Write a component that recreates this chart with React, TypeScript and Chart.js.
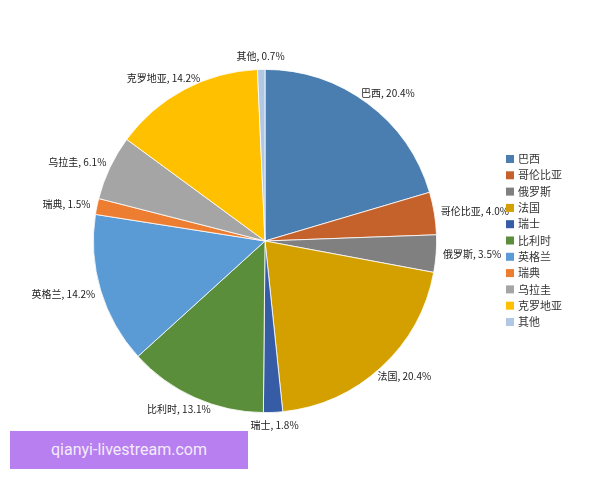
import { useEffect, useRef } from "react"
import { Chart, registerables } from "chart.js"

Chart.register(...registerables)

const countries = ["巴西", "哥伦比亚", "俄罗斯", "法国", "瑞士", "比利时", "英格兰", "瑞典", "乌拉圭", "克罗地亚", "其他"]
const shares = [20.4, 4.0, 3.5, 20.4, 1.8, 13.1, 14.2, 1.5, 6.1, 14.2, 0.7]
const sliceColors = [
  "#4a7eb0",
  "#c5612a",
  "#808080",
  "#d4a000",
  "#355ca4",
  "#5b8e3a",
  "#5b9bd5",
  "#ed7d31",
  "#a5a5a5",
  "#ffc000",
  "#b0c8e4",
]

const labelFont = '10px "Noto Sans CJK SC", sans-serif'

// etichette esterne "nome, xx.x%"
const outsideLabels = {
  id: "outsideLabels",
  afterDatasetsDraw(chart: any) {
    const ctx = chart.ctx
    const meta = chart.getDatasetMeta(0)
    ctx.save()
    ctx.font = labelFont
    ctx.fillStyle = "#222"
    ctx.textBaseline = "middle"
    ctx.textAlign = "center"
    meta.data.forEach((arc: any, i: number) => {
      const mid = (arc.startAngle + arc.endAngle) / 2
      const r = arc.outerRadius + 7
      const cos = Math.cos(mid)
      const sin = Math.sin(mid)
      const ax = arc.x + cos * r
      const ay = arc.y + sin * r
      const text = `${countries[i]}, ${shares[i].toFixed(1)}%`
      const w = ctx.measureText(text).width
      const h = 12
      ctx.fillText(text, ax + (cos * w) / 2, ay + (sin * h) / 2)
    })
    ctx.restore()
  },
}

// legenda a destra
const sideLegend = {
  id: "sideLegend",
  afterDraw(chart: any) {
    const ctx = chart.ctx
    ctx.save()
    ctx.font = '11px "Noto Sans CJK SC", sans-serif'
    ctx.textBaseline = "middle"
    ctx.textAlign = "left"
    countries.forEach((name, i) => {
      const y = 159 + i * 16.3
      ctx.fillStyle = sliceColors[i]
      ctx.fillRect(506, y - 4, 8, 8)
      ctx.fillStyle = "#333"
      ctx.fillText(name, 518, y)
    })
    ctx.restore()
  },
}

function PieChart() {
  const chartRef = useRef<HTMLCanvasElement>(null)
  const chartInstance = useRef<Chart | null>(null)

  useEffect(() => {
    if (!chartRef.current) return
    if (chartInstance.current) chartInstance.current.destroy()
    const ctx = chartRef.current.getContext("2d")
    if (!ctx) return

    chartInstance.current = new Chart(ctx, {
      type: "pie",
      data: {
        labels: countries,
        datasets: [
          {
            data: shares,
            backgroundColor: sliceColors,
            borderColor: "#ffffff",
            borderWidth: 0.8,
          },
        ],
      },
      options: {
        animation: false,
        responsive: true,
        maintainAspectRatio: false,
        layout: {
          padding: { left: 93, right: 163, top: 69, bottom: 67 },
        },
        plugins: {
          legend: { display: false },
          tooltip: { enabled: false },
        },
      },
      plugins: [outsideLabels, sideLegend],
    })

    return () => {
      if (chartInstance.current) chartInstance.current.destroy()
    }
  }, [])

  return <canvas ref={chartRef} />
}

export default function App() {
  return (
    <div style={{ position: "fixed", left: 0, top: 0, width: 600, height: 480, background: "#fff" }}>
      <PieChart />
      <div
        style={{
          position: "absolute",
          left: 10,
          top: 431,
          width: 238,
          height: 38,
          background: "#b77ff0",
          color: "#f4ecfc",
          fontFamily: "Roboto, sans-serif",
          fontSize: 16,
          lineHeight: "38px",
          textAlign: "center",
        }}
      >
        qianyi-livestream.com
      </div>
    </div>
  )
}
